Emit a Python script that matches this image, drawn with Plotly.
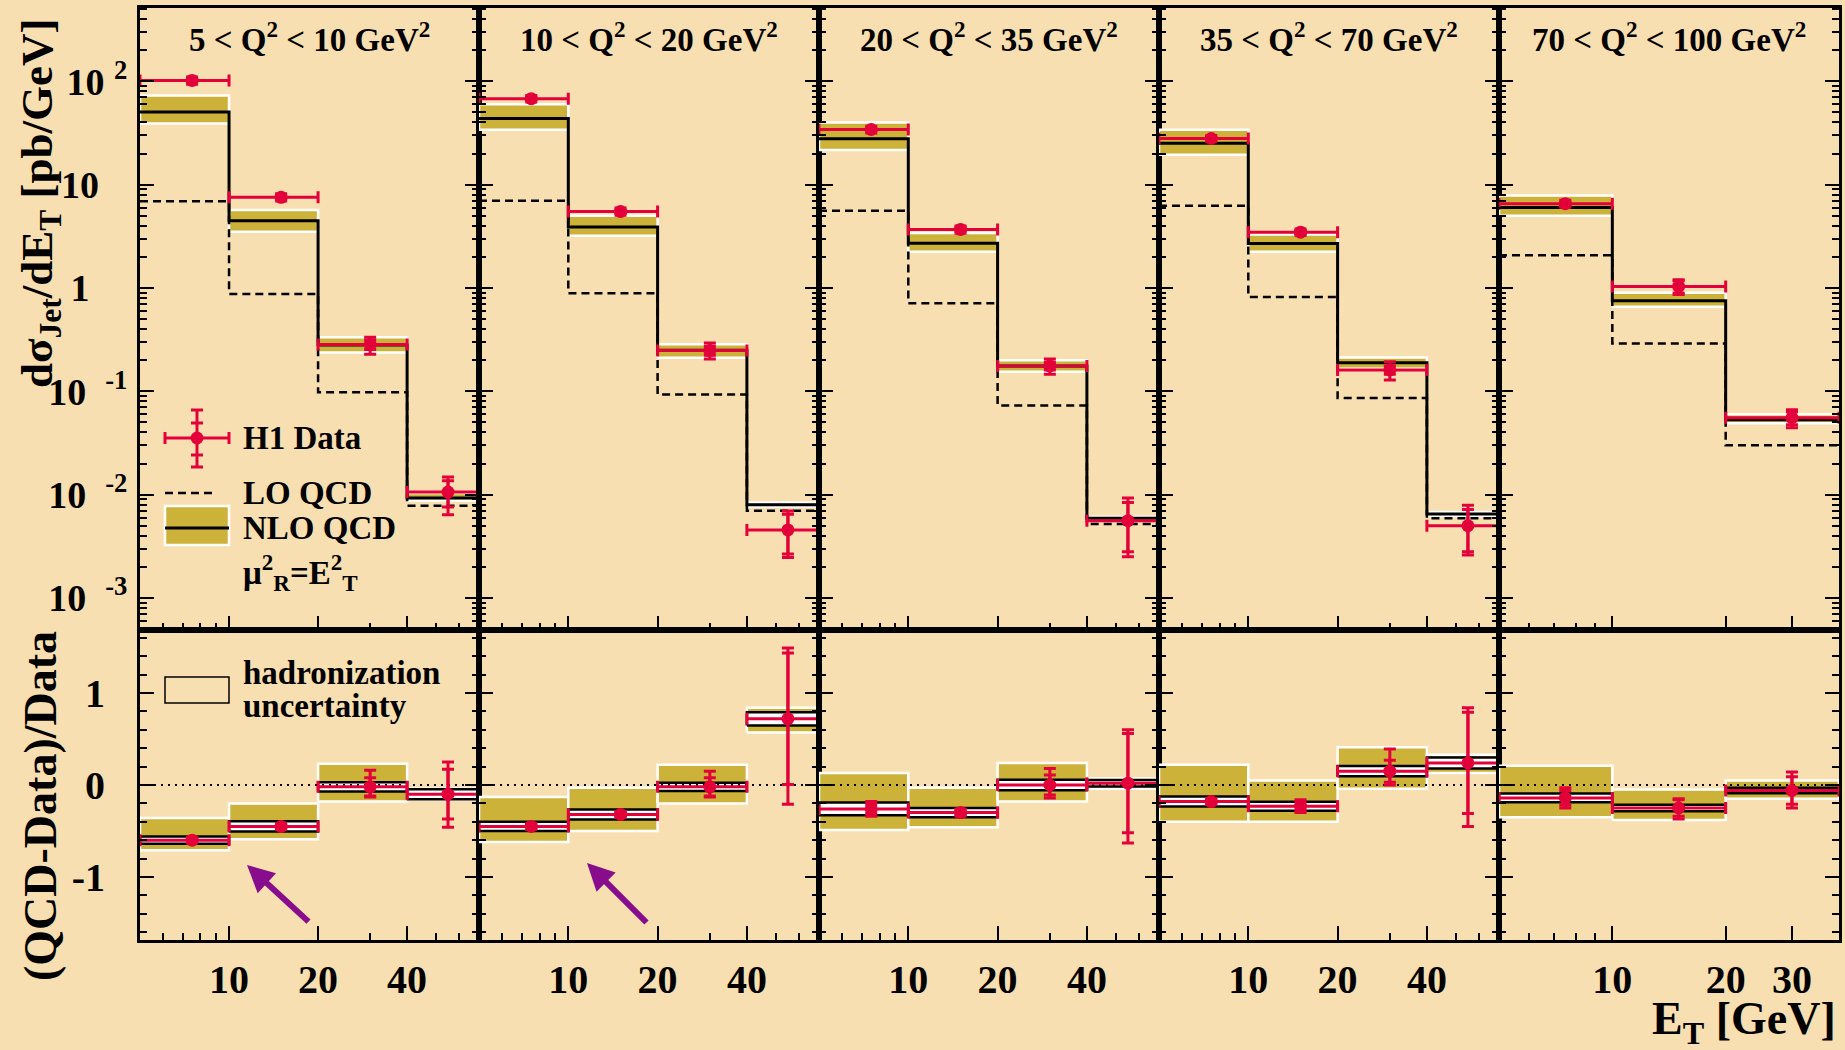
import math
import plotly.graph_objects as go

W, H = 1845, 1050
BG = "#F8DFB1"
GOLD = "#CDB23A"
RED = "#E3003A"
PURPLE = "#870D8D"
FONT = "Liberation Serif"

# ---------------- data ----------------
q2_titles = [
    "5 &lt; Q<sup>2</sup> &lt; 10 GeV<sup>2</sup>",
    "10 &lt; Q<sup>2</sup> &lt; 20 GeV<sup>2</sup>",
    "20 &lt; Q<sup>2</sup> &lt; 35 GeV<sup>2</sup>",
    "35 &lt; Q<sup>2</sup> &lt; 70 GeV<sup>2</sup>",
    "70 &lt; Q<sup>2</sup> &lt; 100 GeV<sup>2</sup>",
]

et_edges_low = [5, 10, 20, 40, 80]      # Q2 bins 1-4
et_edges_high = [5, 10, 20, 40]         # Q2 bin 5
et_mean_low = [7.5, 15, 30, 55]
et_mean_high = [7.5, 15, 30]
et_axis_max_low = 70
et_axis_max_high = 40

# d sigma / d ET [pb/GeV]
xsec_data = [
    [102, 7.55, 0.284, 0.0106],
    [68, 5.5, 0.248, 0.00456],
    [34.2, 3.69, 0.176, 0.0056],
    [28, 3.47, 0.161, 0.0050],
    [6.55, 1.035, 0.0555],
]
xsec_tot_up = [
    [8, 0.6, 0.05, 0.0042],
    [5, 0.45, 0.045, 0.0024],
    [2.5, 0.3, 0.03, 0.0037],
    [2, 0.25, 0.032, 0.0029],
    [0.5, 0.17, 0.011],
]
xsec_tot_dn = [
    [8, 0.6, 0.055, 0.0042],
    [5, 0.45, 0.042, 0.0021],
    [2.5, 0.3, 0.03, 0.0031],
    [2, 0.25, 0.032, 0.0024],
    [0.5, 0.17, 0.011],
]
xsec_stat = [
    [3, 0.25, 0.03, 0.003],
    [2, 0.2, 0.025, 0.0019],
    [1, 0.15, 0.015, 0.0028],
    [0.8, 0.12, 0.015, 0.0022],
    [0.25, 0.14, 0.008],
]
nlo_central = [
    [50.6, 4.47, 0.28, 0.0093],
    [43.6, 3.9, 0.25, 0.0080],
    [27.8, 2.71, 0.176, 0.0059],
    [25.2, 2.69, 0.189, 0.0065],
    [6.0, 0.753, 0.053],
]
nlo_low = [
    [39, 3.5, 0.238, 0.0088],
    [34, 3.2, 0.211, 0.0077],
    [21.7, 2.24, 0.155, 0.0057],
    [19.5, 2.24, 0.165, 0.0062],
    [5.0, 0.66, 0.049],
]
nlo_high = [
    [73, 5.7, 0.333, 0.0104],
    [60, 5.0, 0.285, 0.0084],
    [40, 3.4, 0.20, 0.0061],
    [34, 3.3, 0.213, 0.0068],
    [7.85, 0.90, 0.060],
]
lo_pred = [
    [6.9, 0.875, 0.098, 0.0078],
    [7.0, 0.89, 0.093, 0.0070],
    [5.6, 0.71, 0.073, 0.0052],
    [6.25, 0.82, 0.086, 0.0059],
    [2.07, 0.29, 0.030],
]

# (QCD - Data) / Data
ratio_val = [
    [-0.60, -0.45, -0.02, -0.10],
    [-0.45, -0.32, -0.02, 0.72],
    [-0.26, -0.30, 0.0, 0.02],
    [-0.18, -0.23, 0.15, 0.24],
    [-0.14, -0.25, -0.06],
]
ratio_tot_up = [
    [0.03, 0.03, 0.18, 0.35],
    [0.03, 0.03, 0.17, 0.77],
    [0.08, 0.04, 0.18, 0.58],
    [0.03, 0.07, 0.24, 0.60],
    [0.11, 0.10, 0.20],
]
ratio_tot_dn = [
    [0.03, 0.03, 0.11, 0.36],
    [0.03, 0.03, 0.11, 0.93],
    [0.08, 0.04, 0.14, 0.65],
    [0.03, 0.07, 0.15, 0.69],
    [0.11, 0.12, 0.19],
]
ratio_stat = [
    [0.02, 0.02, 0.10, 0.27],
    [0.02, 0.02, 0.10, 0.715],
    [0.05, 0.03, 0.11, 0.54],
    [0.02, 0.05, 0.12, 0.55],
    [0.08, 0.09, 0.15],
]
ratio_scale_lo = [
    [-0.71, -0.59, -0.18, -0.16],
    [-0.62, -0.50, -0.20, 0.57],
    [-0.49, -0.46, -0.18, -0.04],
    [-0.40, -0.40, -0.04, 0.13],
    [-0.35, -0.38, -0.15],
]
ratio_scale_hi = [
    [-0.36, -0.20, 0.23, -0.04],
    [-0.13, -0.03, 0.22, 0.84],
    [0.13, -0.03, 0.24, 0.07],
    [0.22, 0.05, 0.41, 0.33],
    [0.21, -0.05, 0.05],
]
ratio_had_half = [
    [0.04, 0.055, 0.05, 0.055],
    [0.05, 0.054, 0.045, 0.072],
    [0.069, 0.05, 0.058, 0.035],
    [0.054, 0.049, 0.056, 0.06],
    [0.047, 0.035, 0.03],
]

# ticks
NB = "\u00a0"
ZW = "\u200b"
top_y_tickvals = [1e-3, 1e-2, 1e-1, 1, 10, 100]
top_y_ticktext = ["10" + NB + NB + "<sup>-3</sup>", "10" + NB + NB + "<sup>-2</sup>",
                  "10" + NB + NB + "<sup>-1</sup>",
                  "1" + NB * 4 + ZW, "10" + NB * 3 + ZW, "10" + NB + "<sup>2</sup>"]
bot_y_tickvals = [-1, 0, 1]
bot_y_ticktext = ["-1", "0", "1"]
x_tickvals_low = [10, 20, 40]
x_ticktext_low = ["10", "20", "40"]
x_minor_low = [6, 7, 8, 9, 30, 50, 60]
x_tickvals_high = [10, 20, 30]
x_ticktext_high = ["10", "20", "30"]
x_minor_high = [6, 7, 8, 9]

# ---------------- layout geometry (pixels) ----------------
left_px = [140, 479, 819, 1159, 1499]
right_px = [479, 819, 1159, 1499, 1839]
TOP_Y0, MID_Y, BOT_Y1 = 8, 630, 940


def px_x(x):
    return x / W


def px_y(y):
    return 1 - y / H


fig = go.Figure()


def box_trace(lo, hi, b, t, xa, ya, fill, line_color, line_width):
    return go.Scatter(
        x=[lo, hi, hi, lo, lo], y=[b, b, t, t, b], xaxis=xa, yaxis=ya,
        mode="lines", fill="toself", fillcolor=fill,
        line=dict(color=line_color, width=line_width),
        hoverinfo="skip", showlegend=False)


for p in range(5):
    edges = et_edges_low if p < 4 else et_edges_high
    xm = et_mean_low if p < 4 else et_mean_high
    n = len(edges) - 1
    xt, yt = f"x{p + 1}", f"y{p + 1}"
    xb, yb = f"x{p + 6}", f"y{p + 6}"
    ex_plus = [edges[i + 1] - xm[i] for i in range(n)]
    ex_minus = [xm[i] - edges[i] for i in range(n)]

    # ---- top: cross sections ----
    for i in range(n):
        fig.add_trace(box_trace(edges[i], edges[i + 1], nlo_low[p][i], nlo_high[p][i],
                                xt, yt, GOLD, "white", 2.5))
    fig.add_trace(go.Scatter(x=edges, y=nlo_central[p] + [nlo_central[p][-1]], xaxis=xt, yaxis=yt,
                             mode="lines", line=dict(color="black", width=3, shape="hv"),
                             hoverinfo="skip", showlegend=False))
    fig.add_trace(go.Scatter(x=edges, y=lo_pred[p] + [lo_pred[p][-1]], xaxis=xt, yaxis=yt,
                             mode="lines", line=dict(color="black", width=2.5, shape="hv", dash="8px,5px"),
                             hoverinfo="skip", showlegend=False))
    fig.add_trace(go.Scatter(x=xm, y=xsec_data[p], xaxis=xt, yaxis=yt, mode="markers",
                             marker=dict(size=1, color=RED),
                             error_y=dict(type="data", array=xsec_stat[p], color=RED, thickness=3, width=6),
                             hoverinfo="skip", showlegend=False))
    fig.add_trace(go.Scatter(x=xm, y=xsec_data[p], xaxis=xt, yaxis=yt, mode="markers",
                             marker=dict(size=13, color=RED),
                             error_y=dict(type="data", array=xsec_tot_up[p], arrayminus=xsec_tot_dn[p],
                                          color=RED, thickness=3, width=6),
                             error_x=dict(type="data", array=ex_plus, arrayminus=ex_minus,
                                          color=RED, thickness=3, width=6),
                             hoverinfo="skip", showlegend=False))

    # ---- bottom: ratio ----
    for i in range(n):
        fig.add_trace(box_trace(edges[i], edges[i + 1], ratio_scale_lo[p][i], ratio_scale_hi[p][i],
                                xb, yb, GOLD, "white", 2.5))
    for i in range(n):
        fig.add_trace(box_trace(edges[i], edges[i + 1], ratio_val[p][i] - ratio_had_half[p][i],
                                ratio_val[p][i] + ratio_had_half[p][i], xb, yb, "white", "black", 2.5))
    fig.add_trace(go.Scatter(x=[edges[0], edges[-1]], y=[0, 0], xaxis=xb, yaxis=yb, mode="lines",
                             line=dict(color="black", width=2, dash="2px,5px"),
                             hoverinfo="skip", showlegend=False))
    fig.add_trace(go.Scatter(x=xm, y=ratio_val[p], xaxis=xb, yaxis=yb, mode="markers",
                             marker=dict(size=1, color=RED),
                             error_y=dict(type="data", array=ratio_stat[p], color=RED, thickness=3, width=6),
                             hoverinfo="skip", showlegend=False))
    fig.add_trace(go.Scatter(x=xm, y=ratio_val[p], xaxis=xb, yaxis=yb, mode="markers",
                             marker=dict(size=13, color=RED),
                             error_y=dict(type="data", array=ratio_tot_up[p], arrayminus=ratio_tot_dn[p],
                                          color=RED, thickness=3, width=6),
                             error_x=dict(type="data", array=ex_plus, arrayminus=ex_minus,
                                          color=RED, thickness=3, width=6),
                             hoverinfo="skip", showlegend=False))

# ---------------- axes ----------------
axes = {}
tick_font_top = dict(family=FONT, size=38, color="black", weight="bold")
tick_font_bot = dict(family=FONT, size=40, color="black", weight="bold")
top_minor = [k * 10 ** e for e in range(-4, 3) for k in range(2, 10)]
bot_minor = [round(-1.6 + 0.2 * k, 2) for k in range(17)]
bot_minor = [v for v in bot_minor if abs(v - round(v)) > 1e-6]

for p in range(5):
    dom = [px_x(left_px[p]), px_x(right_px[p])]
    xmax = et_axis_max_low if p < 4 else et_axis_max_high
    xr = [math.log10(5), math.log10(xmax)]
    xtv = x_tickvals_low if p < 4 else x_tickvals_high
    xtt = x_ticktext_low if p < 4 else x_ticktext_high
    xmn = x_minor_low if p < 4 else x_minor_high
    common = dict(showline=True, linecolor="black", linewidth=3, showgrid=False, zeroline=False,
                  ticks="inside", tickcolor="black", tickwidth=2, ticklen=14)
    kx_t = "xaxis" if p == 0 else f"xaxis{p + 1}"
    ky_t = "yaxis" if p == 0 else f"yaxis{p + 1}"
    axes[kx_t] = dict(domain=dom, type="log", range=xr, anchor=f"y{p + 1}", mirror=True,
                      tickmode="array", tickvals=xtv, showticklabels=False,
                      minor=dict(ticks="inside", ticklen=7, tickwidth=2, tickcolor="black",
                                 tickvals=xmn, showgrid=False), **common)
    axes[ky_t] = dict(domain=[px_y(MID_Y), px_y(TOP_Y0)], type="log", range=[-3.31, 2.71],
                      anchor=f"x{p + 1}", mirror="ticks", tickmode="array",
                      tickvals=top_y_tickvals, ticktext=top_y_ticktext,
                      showticklabels=(p == 0), tickfont=tick_font_top, ticklabelstandoff=2,
                      minor=dict(ticks="inside", ticklen=7, tickwidth=2, tickcolor="black",
                                 tickvals=top_minor, showgrid=False), **common)
    axes[f"xaxis{p + 6}"] = dict(domain=dom, type="log", range=xr, anchor=f"y{p + 6}", mirror=True,
                                 tickmode="array", tickvals=xtv, ticktext=xtt, showticklabels=True,
                                 tickfont=tick_font_bot, ticklabelstandoff=2,
                                 minor=dict(ticks="inside", ticklen=7, tickwidth=2, tickcolor="black",
                                            tickvals=xmn, showgrid=False), **common)
    axes[f"yaxis{p + 6}"] = dict(domain=[px_y(BOT_Y1), px_y(MID_Y)], range=[-1.685, 1.685],
                                 anchor=f"x{p + 6}", mirror="ticks", tickmode="array",
                                 tickvals=bot_y_tickvals, ticktext=bot_y_ticktext,
                                 showticklabels=(p == 0), tickfont=tick_font_bot, ticklabelstandoff=24,
                                 minor=dict(ticks="inside", ticklen=7, tickwidth=2, tickcolor="black",
                                            tickvals=bot_minor, showgrid=False), **common)

# ---------------- annotations ----------------
ann = []
bold = dict(family=FONT, color="black", weight="bold")
for p in range(5):
    ann.append(dict(text=q2_titles[p], x=px_x((left_px[p] + right_px[p]) / 2), y=px_y(37),
                    xref="paper", yref="paper", xanchor="center", yanchor="middle",
                    showarrow=False, font=dict(size=33, **bold)))
ann.append(dict(text="dσ<sub>Jet</sub>/dE<sub>T</sub> [pb/GeV]", x=px_x(40), y=px_y(203),
                xref="paper", yref="paper", xanchor="center", yanchor="middle", textangle=-90,
                showarrow=False, font=dict(size=45, **bold)))
ann.append(dict(text="(QCD-Data)/Data", x=px_x(40), y=px_y(806),
                xref="paper", yref="paper", xanchor="center", yanchor="middle", textangle=-90,
                showarrow=False, font=dict(size=46, **bold)))
ann.append(dict(text="E<sub>T</sub> [GeV]", x=px_x(1838), y=px_y(1022),
                xref="paper", yref="paper", xanchor="right", yanchor="middle",
                showarrow=False, font=dict(size=46, **bold)))
legend_texts = [("H1 Data", 438), ("LO QCD", 493), ("NLO QCD", 528),
                ("μ<sup>2</sup><sub>R</sub>=E<sup>2</sup><sub>T</sub>", 572),
                ("hadronization", 673), ("uncertainty", 706)]
for txt, yy in legend_texts:
    ann.append(dict(text=txt, x=px_x(241), y=px_y(yy), xref="paper", yref="paper",
                    xanchor="left", yanchor="middle", showarrow=False, font=dict(size=33, **bold)))
# arrows
for hx, hy, tx, ty in [(247, 865, 310, 923), (587, 863, 648, 924)]:
    ann.append(dict(text="", x=px_x(hx), y=px_y(hy), xref="paper", yref="paper",
                    ax=tx - hx, ay=ty - hy, axref="pixel", ayref="pixel", showarrow=True,
                    arrowhead=2, arrowsize=0.9, arrowwidth=6, arrowcolor=PURPLE, standoff=0))

# ---------------- legend glyphs ----------------
shapes = []


def pline(x0, y0, x1, y1, color, width, dash=None):
    d = dict(type="line", xref="paper", yref="paper", x0=px_x(x0), y0=px_y(y0), x1=px_x(x1), y1=px_y(y1),
             line=dict(color=color, width=width))
    if dash:
        d["line"]["dash"] = dash
    return d


shapes.append(pline(165, 438, 229, 438, RED, 3))
shapes.append(pline(165, 432, 165, 444, RED, 3))
shapes.append(pline(229, 432, 229, 444, RED, 3))
shapes.append(pline(197, 410, 197, 467, RED, 3))
for yy in (410, 423, 455, 467):
    shapes.append(pline(191, yy, 203, yy, RED, 3))
shapes.append(dict(type="circle", xref="paper", yref="paper", x0=px_x(190.5), x1=px_x(203.5),
                   y0=px_y(444.5), y1=px_y(431.5), fillcolor=RED, line=dict(color=RED, width=0)))
shapes.append(pline(165, 493, 217, 493, "black", 2.5, "8px,5px"))
shapes.append(dict(type="rect", xref="paper", yref="paper", x0=px_x(165), x1=px_x(229),
                   y0=px_y(545), y1=px_y(506), fillcolor=GOLD, line=dict(color="white", width=2.5)))
shapes.append(pline(165, 528, 229, 528, "black", 3))
shapes.append(dict(type="rect", xref="paper", yref="paper", x0=px_x(165), x1=px_x(229),
                   y0=px_y(703), y1=px_y(677), fillcolor="rgba(0,0,0,0)", line=dict(color="black", width=1.5)))

fig.update_layout(width=W, height=H, autosize=False, margin=dict(l=0, r=0, t=0, b=0),
                  paper_bgcolor=BG, plot_bgcolor=BG, showlegend=False,
                  annotations=ann, shapes=shapes, **axes)
fig.write_html("out.html")
